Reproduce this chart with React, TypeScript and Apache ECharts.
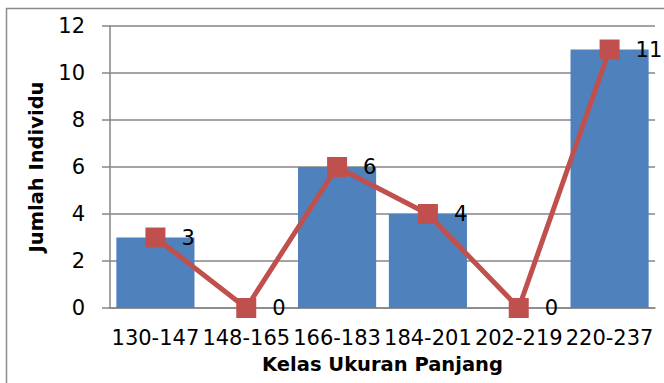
import React, { useEffect, useRef } from "react";
import * as echarts from "echarts";

const categories = ["130-147", "148-165", "166-183", "184-201", "202-219", "220-237"];
const barValues = [3, 0, 6, 4, 0, 11];
const lineValues = [3, 0, 6, 4, 0, 11];
const xTitle = "Kelas Ukuran Panjang";
const yTitle = "Jumlah Individu";

export default function App() {
  const ref = useRef<HTMLDivElement>(null);
  useEffect(() => {
    if (!ref.current) return;
    const chart = echarts.init(ref.current, null, { renderer: "svg" });
    const font = "DejaVu Sans, Arial, sans-serif";
    chart.setOption({
      animation: false,
      backgroundColor: "#ffffff",
      textStyle: { fontFamily: font },
      graphic: [
        {
          type: "rect",
          shape: { x: 6.5, y: 8.5, width: 700, height: 400 },
          style: { fill: "none", stroke: "#8c8c8c", lineWidth: 1.5 },
          silent: true,
          z: -10,
        },
      ],
      grid: { left: 110, top: 26, right: 9, bottom: 75 },
      xAxis: {
        type: "category",
        data: categories,
        name: xTitle,
        nameLocation: "middle",
        nameGap: 46,
        nameTextStyle: { fontSize: 19.5, fontWeight: "bold", color: "#000", fontFamily: font },
        axisLine: { lineStyle: { color: "#868686", width: 1.5 } },
        axisTick: { show: false },
        axisLabel: { fontSize: 21, color: "#000", margin: 19, fontFamily: font, interval: 0 },
      },
      yAxis: {
        type: "value",
        min: 0,
        max: 12,
        interval: 2,
        name: yTitle,
        nameLocation: "middle",
        nameGap: 64,
        nameTextStyle: { fontSize: 19.5, fontWeight: "bold", color: "#000", fontFamily: font },
        axisLine: { show: true, lineStyle: { color: "#868686", width: 1.5 } },
        axisTick: { show: true, length: 8, lineStyle: { color: "#868686", width: 1.5 } },
        axisLabel: { fontSize: 21, color: "#000", margin: 25, fontFamily: font },
        splitLine: { lineStyle: { color: "#868686", width: 1.5 } },
      },
      series: [
        {
          type: "bar",
          data: barValues,
          barCategoryGap: "14%",
          itemStyle: { color: "#4F81BD" },
          z: 2,
        },
        {
          type: "line",
          data: lineValues,
          symbol: "rect",
          symbolSize: 20,
          lineStyle: { color: "#C0504D", width: 5 },
          itemStyle: { color: "#C0504D" },
          label: {
            show: true,
            position: "right",
            distance: 16,
            fontSize: 21,
            color: "#000",
            fontFamily: font,
          },
          z: 5,
        },
      ],
    });
    return () => chart.dispose();
  }, []);
  return (
    <div
      ref={ref}
      style={{ position: "fixed", left: 0, top: 0, width: 664, height: 383 }}
    />
  );
}
